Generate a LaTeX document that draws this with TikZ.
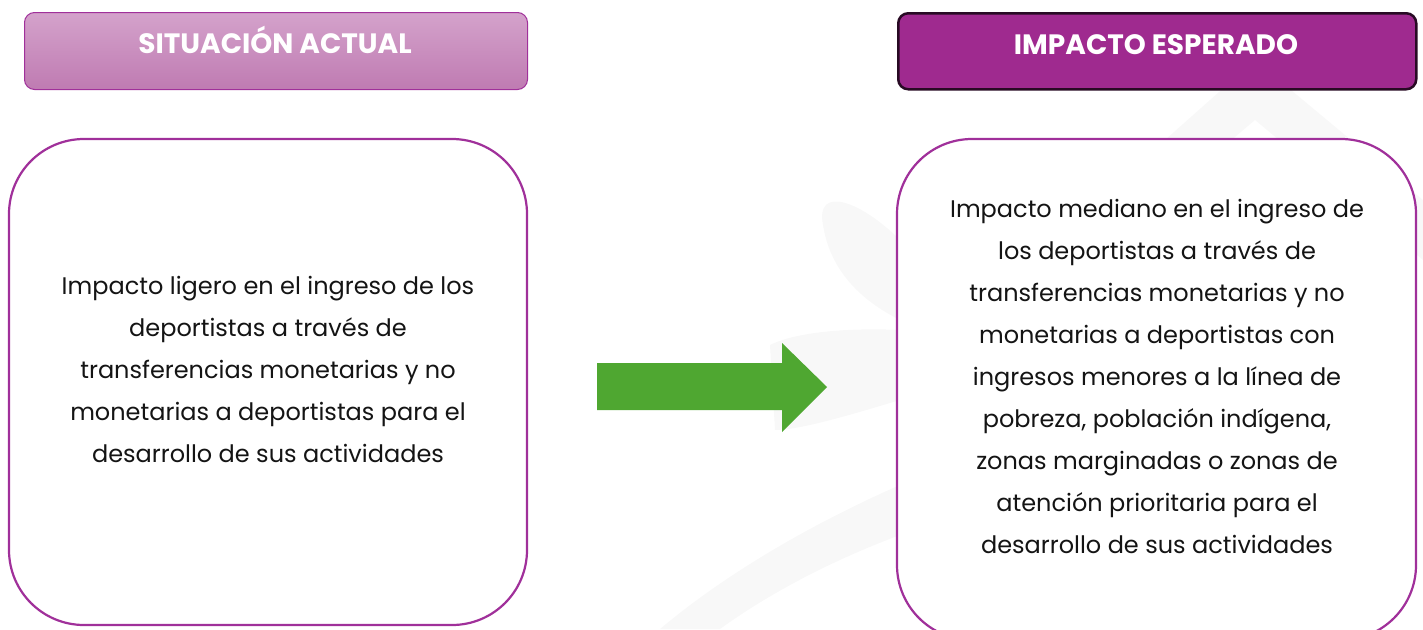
\documentclass[tikz,border=0pt]{standalone}
\usepackage{fontspec}
\setmainfont{Poppins}
\definecolor{borderpurple}{RGB}{160,48,154}
\definecolor{headtop}{RGB}{212,162,203}
\definecolor{headbot}{RGB}{191,123,178}
\definecolor{headdark}{RGB}{159,42,143}
\definecolor{darkedge}{RGB}{40,10,36}
\definecolor{arrowgreen}{RGB}{79,167,49}
\definecolor{wm}{RGB}{248,248,248}
\definecolor{txt}{RGB}{20,20,20}
\tikzset{
  headbox/.style={rounded corners=10pt},
  headtext/.style={text=white, anchor=base, font=\fontsize{28}{32}\selectfont\bfseries},
  mainbox/.style={draw=borderpurple, line width=2.2pt, rounded corners=75pt, fill=white},
  bodytext/.style={align=center, text=txt, font=\fontsize{24}{42}\selectfont}
}
\begin{document}
\begin{tikzpicture}[x=1pt,y=-1pt]
\useasboundingbox (0,0) rectangle (1423,629);
% faint watermark shapes
\fill[wm] (1255,60) -- (1423,200) -- (1423,260) -- (1255,120) -- (1090,260) -- (1030,260) -- cycle;
\fill[wm] (823,225) .. controls (815,185) and (860,200) .. (900,240) -- (900,320) .. controls (860,300) and (830,270) .. (823,225) -- cycle;
\fill[wm] (770,345) .. controls (800,330) and (860,328) .. (900,330) -- (900,400) .. controls (850,415) and (800,430) .. (775,430) -- cycle;
\fill[wm] (660,629) .. controls (730,570) and (820,520) .. (900,485) -- (900,535) .. controls (820,565) and (760,600) .. (720,629) -- cycle;
% headers
\node[headbox, draw=borderpurple, line width=1pt, top color=headtop, bottom color=headbot,
  minimum width=503pt, minimum height=77pt, anchor=north west] (hleft) at (24,12) {};
\node[headtext] (hleftt) at (275,53) {SITUACIÓN ACTUAL};
\node[headbox, draw=darkedge, line width=2.5pt, fill=headdark,
  minimum width=518pt, minimum height=76pt, anchor=north west] (hright) at (897,12) {};
\node[headtext] (hrightt) at (1156,54) {IMPACTO ESPERADO};
% main boxes
\draw[mainbox] (9,139) rectangle (527,625);
\node (left) at (268,139) {};
\draw[mainbox] (897,139) rectangle (1416,640);
\node (right) at (1156,139) {};
% texts
\node[bodytext] (ltext) at (268,369) {Impacto ligero en el ingreso de los\\deportistas a través de\\transferencias monetarias y no\\monetarias a deportistas para el\\desarrollo de sus actividades};
\node[bodytext] (rtext) at (1157,376) {Impacto mediano en el ingreso de\\los deportistas a través de\\transferencias monetarias y no\\monetarias a deportistas con\\ingresos menores a la línea de\\pobreza, población indígena,\\zonas marginadas o zonas de\\atención prioritaria para el\\desarrollo de sus actividades};
% arrow
\fill[arrowgreen] (597,363) -- (782,363) -- (782,343) -- (827,387) -- (782,432) -- (782,410) -- (597,410) -- cycle;
\end{tikzpicture}
\end{document}
